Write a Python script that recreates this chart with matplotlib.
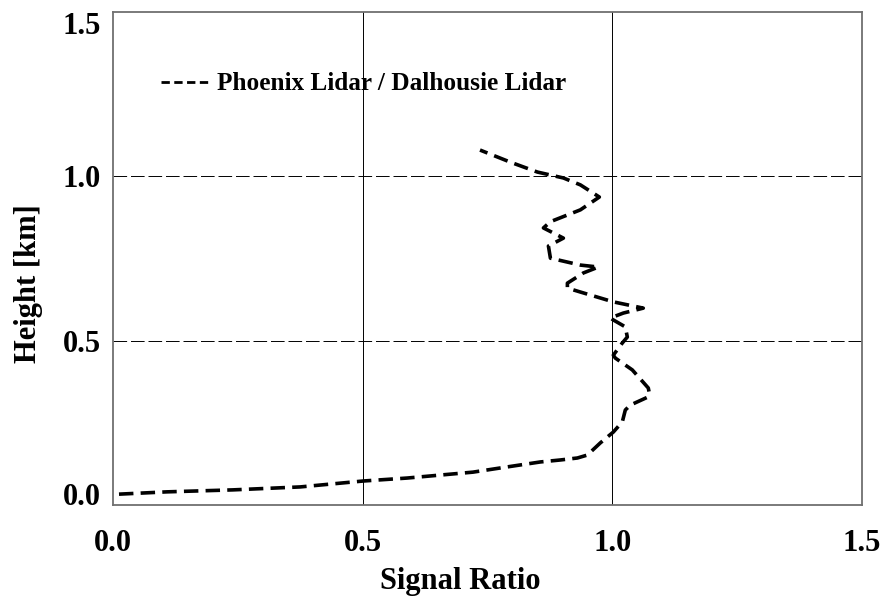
import numpy as np
import matplotlib
matplotlib.use("Agg")
import matplotlib.pyplot as plt

# signal ratio profile (bottom -> top)
height = [0.033, 0.040, 0.046, 0.055, 0.073, 0.082, 0.091, 0.100, 0.116, 0.131,
          0.137, 0.143, 0.152, 0.189, 0.222, 0.253, 0.289, 0.304, 0.329, 0.341,
          0.356, 0.411, 0.447, 0.456, 0.493, 0.511, 0.542, 0.563, 0.569, 0.584,
          0.599, 0.618, 0.648, 0.660, 0.675, 0.706, 0.724, 0.730, 0.751, 0.788,
          0.812, 0.843, 0.862, 0.898, 0.937, 0.974, 0.995, 1.013, 1.043, 1.080]
ratio = [0.012, 0.108, 0.240, 0.375, 0.501, 0.589, 0.655, 0.721, 0.790, 0.856,
         0.896, 0.930, 0.950, 0.976, 1.002, 1.020, 1.026, 1.036, 1.072, 1.074,
         1.072, 1.040, 1.006, 1.002, 1.020, 1.030, 1.026, 1.002, 0.996, 1.022,
         1.062, 1.002, 0.936, 0.910, 0.910, 0.942, 0.972, 0.936, 0.876, 0.872,
         0.902, 0.862, 0.876, 0.936, 0.974, 0.936, 0.902, 0.850, 0.796, 0.735]

ticks = [0.0, 0.5, 1.0, 1.5]
tick_labels = ["0.0", "0.5", "1.0", "1.5"]
label = "Phoenix Lidar / Dalhousie Lidar"

plt.rcParams['font.family'] = ['Liberation Serif', 'DejaVu Serif']
plt.rcParams['font.weight'] = 'bold'

fig = plt.figure(figsize=(8.85, 5.99), dpi=100)
ax = fig.add_axes([113/885, 94/599, 749/885, 493/599])

ax.plot(ratio, height, color='black', lw=2.6, ls=(0, (4, 2)), label=label)

ax.set_xlim(0, 1.5)
ax.set_ylim(0, 1.5)
ax.set_xticks(ticks)
ax.set_yticks(ticks)
ax.set_xticklabels(tick_labels, fontsize=22, fontweight='bold')
ax.set_yticklabels(tick_labels, fontsize=22, fontweight='bold')
ax.tick_params(axis='x', length=0, pad=17)
ax.tick_params(axis='y', length=0, pad=9)
yl = ax.get_yticklabels()
yl[0].set_va('baseline')
yl[-1].set_va('top')

for v in ticks[1:-1]:
    ax.axvline(v, color='black', lw=0.7)
    ax.axhline(v, color='black', lw=0.7, ls=(0, (14, 4)))

for s in ax.spines.values():
    s.set_color('#707070')
    s.set_linewidth(1.3)

ax.set_xlabel("Signal Ratio", fontsize=22, fontweight='bold')
ax.set_ylabel("Height [km]", fontsize=22, fontweight='bold')
ax.xaxis.set_label_coords(0.464, -0.125)
ax.yaxis.set_label_coords(-0.093, 0.45)

leg = ax.legend(loc='center left', bbox_to_anchor=(0.064, 0.854), frameon=False,
                handlelength=2.0, handletextpad=0.2, borderpad=0,
                borderaxespad=0, prop={'weight': 'bold', 'size': 18.2})
leg.get_lines()[0].set_linewidth(2.0)
leg.get_lines()[0].set_linestyle((0, (3, 1.6)))

fig.savefig("out.png", dpi=100)
